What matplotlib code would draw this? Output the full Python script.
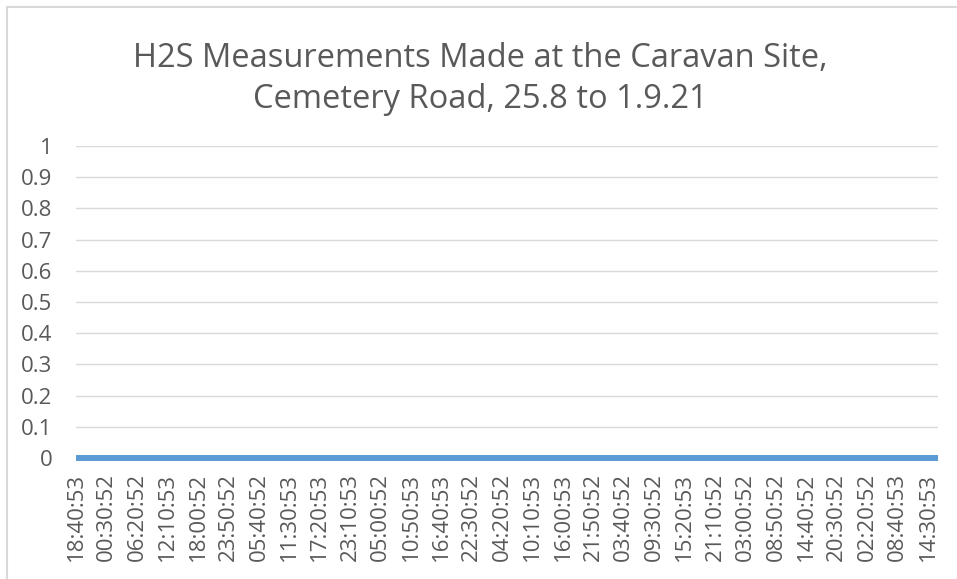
import matplotlib
matplotlib.use("Agg")
import matplotlib.pyplot as plt
from matplotlib.lines import Line2D

## Données : H2S (ppm) relevé toutes les 10 minutes, tout à zéro
n_readings = 992
h2s = [0.0] * n_readings

## Étiquettes de l'axe des x (une tous les 35 relevés)
label_step = 35
time_labels = ["18:40:53", "00:30:52", "06:20:52", "12:10:53", "18:00:52",
               "23:50:52", "05:40:52", "11:30:53", "17:20:53", "23:10:53",
               "05:00:52", "10:50:53", "16:40:53", "22:30:52", "04:20:52",
               "10:10:53", "16:00:53", "21:50:52", "03:40:52", "09:30:52",
               "15:20:53", "21:10:52", "03:00:52", "08:50:52", "14:40:52",
               "20:30:52", "02:20:52", "08:40:53", "14:30:53"]
y_ticks = [0, 0.1, 0.2, 0.3, 0.4, 0.5, 0.6, 0.7, 0.8, 0.9, 1]
y_labels = ["0", "0.1", "0.2", "0.3", "0.4", "0.5", "0.6", "0.7", "0.8", "0.9", "1"]

title = "H2S Measurements Made at the Caravan Site,\nCemetery Road, 25.8 to 1.9.21"

txt = "#595959"
plt.rcParams["font.family"] = ["Open Sans", "DejaVu Sans"]

W, H = 957, 579
fig = plt.figure(figsize=(W / 100, H / 100), dpi=100)
ax = fig.add_axes([76 / W, 1 - 458 / H, (938 - 76) / W, (458 - 146) / H])

ax.plot(range(n_readings), h2s, color="#5b9bd5", lw=4.3,
        solid_capstyle="butt", clip_on=False, zorder=3)

ax.set_xlim(-0.5, n_readings - 0.5)
ax.set_ylim(0, 1)
ax.set_yticks(y_ticks)
ax.set_yticklabels(y_labels)
ax.set_xticks(range(0, label_step * len(time_labels), label_step))
ax.set_xticklabels(time_labels, rotation=90)

ax.grid(axis="y", color="#d9d9d9", lw=1)
ax.set_axisbelow(True)
for s in ax.spines.values():
    s.set_visible(False)
ax.tick_params(axis="both", length=0, labelsize=16, colors=txt)
ax.tick_params(axis="y", pad=17)
ax.tick_params(axis="x", pad=11)

fig.text(0.502, 1 - 79 / H, title, ha="center", va="center",
         fontsize=23.5, color=txt, linespacing=1.35)

## Bordure du graphique (gauche et haut)
fig.add_artist(Line2D([7 / W, 7 / W], [0, 1 - 7 / H], transform=fig.transFigure,
                      color="#d9d9d9", lw=1.5))
fig.add_artist(Line2D([7 / W, 1], [1 - 7 / H, 1 - 7 / H], transform=fig.transFigure,
                      color="#d9d9d9", lw=1.5))

plt.savefig("out.png", dpi=100)
